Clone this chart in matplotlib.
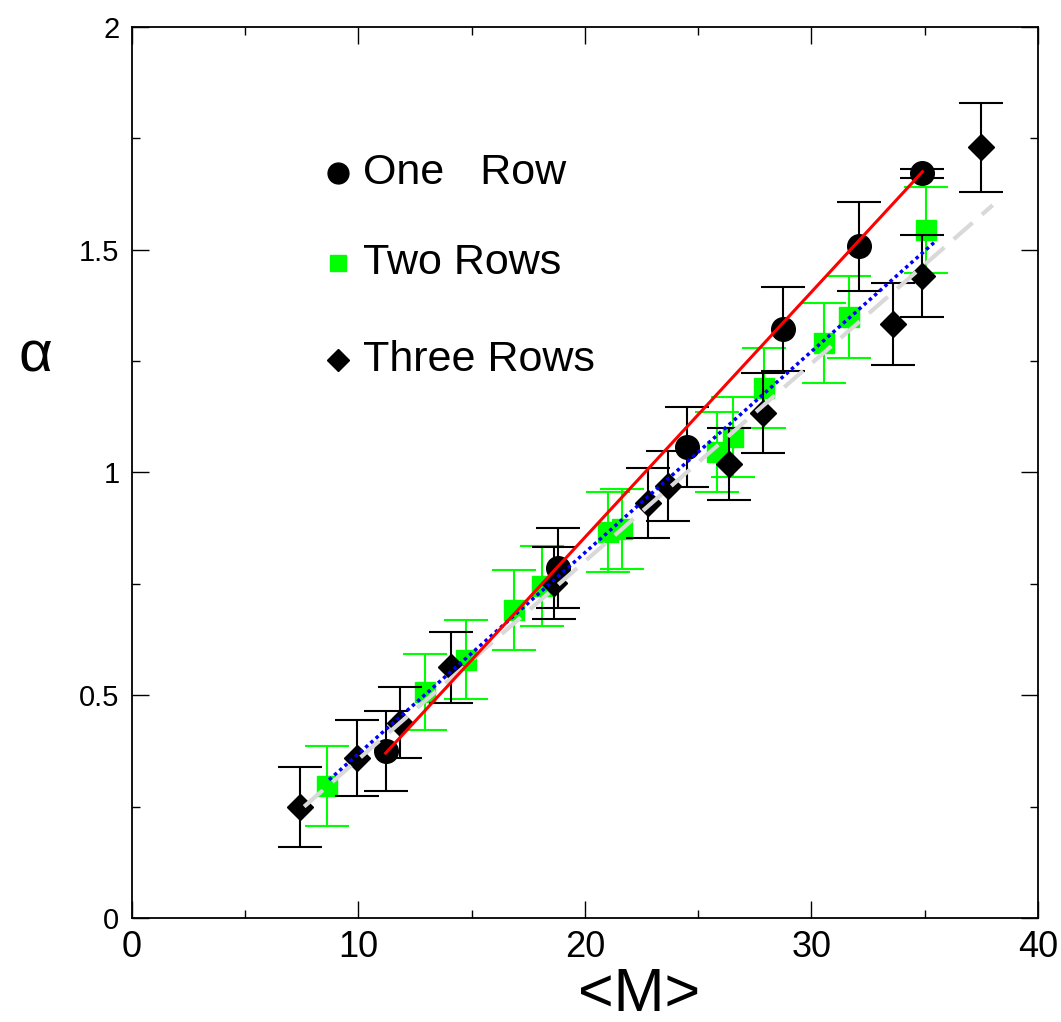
import numpy as np
import matplotlib
matplotlib.use('Agg')
import matplotlib.pyplot as plt
from matplotlib.ticker import MultipleLocator

# One Row (circles)
one_x = [11.2, 18.8, 24.5, 28.75, 32.1, 34.9]
one_y = [0.375, 0.786, 1.057, 1.322, 1.508, 1.672]
one_err = [0.09, 0.09, 0.09, 0.095, 0.1, 0.01]

# Two Rows (green squares)
two_x = [8.6, 12.95, 14.75, 16.85, 18.1, 21.0, 21.65, 25.85, 26.55, 27.9, 30.55, 31.65, 35.05]
two_y = [0.296, 0.507, 0.58, 0.691, 0.745, 0.866, 0.873, 1.046, 1.08, 1.19, 1.29, 1.349, 1.544]
two_err = [0.09, 0.085, 0.088, 0.09, 0.09, 0.09, 0.09, 0.09, 0.09, 0.09, 0.09, 0.092, 0.097]

# Three Rows (diamonds)
three_x = [7.4, 9.95, 11.85, 14.1, 18.65, 22.8, 23.65, 26.35, 27.85, 33.6, 34.9, 37.5]
three_y = [0.249, 0.359, 0.438, 0.563, 0.752, 0.932, 0.97, 1.019, 1.133, 1.333, 1.441, 1.73]
three_err = [0.089, 0.085, 0.08, 0.08, 0.08, 0.078, 0.078, 0.08, 0.09, 0.092, 0.092, 0.1]

# linear fits (end points)
fit_one_x, fit_one_y = [11.2, 34.9], [0.37, 1.675]
fit_two_x, fit_two_y = [8.7, 35.5], [0.31, 1.52]
fit_three_x, fit_three_y = [7.6, 38.0], [0.25, 1.60]

fam = ['Liberation Sans Narrow', 'Liberation Sans', 'DejaVu Sans']

fig = plt.figure(figsize=(10.61, 10.22), dpi=100)
ax = fig.add_axes([0.1244, 0.1018, 0.8539, 0.8718])

ax.errorbar(two_x, two_y, yerr=two_err, fmt='s', color='#00ff00', ms=14,
            elinewidth=1.5, capsize=16, capthick=1.5, zorder=2)
ax.errorbar(one_x, one_y, yerr=one_err, fmt='o', color='black', ms=17,
            elinewidth=1.5, capsize=16, capthick=1.5, zorder=3)
ax.errorbar(three_x, three_y, yerr=three_err, fmt='D', color='black', ms=13,
            elinewidth=1.5, capsize=16, capthick=1.5, zorder=4)

ax.plot(fit_three_x, fit_three_y, color='#d9d9d9', lw=3, dashes=(6, 3), zorder=5)
ax.plot(fit_two_x, fit_two_y, color='#0000ff', lw=2.5, dashes=(1, 1), zorder=6)
ax.plot(fit_one_x, fit_one_y, color='#ff0000', lw=2.2, zorder=7)

# legend
leg_y = [0.836, 0.735, 0.626]
ax.plot([0.227], [leg_y[0]], 'o', color='black', ms=15, transform=ax.transAxes)
ax.plot([0.227], [leg_y[1]], 's', color='#00ff00', ms=12, transform=ax.transAxes)
ax.plot([0.227], [leg_y[2]], 'D', color='black', ms=11, transform=ax.transAxes)
for yy, lab in zip(leg_y, ['One   Row', 'Two Rows', 'Three Rows']):
    ax.text(0.255, yy, lab, transform=ax.transAxes, fontsize=31, family=fam,
            va='center', ha='left')

ax.set_xlim(0, 40)
ax.set_ylim(0, 2)
ax.xaxis.set_major_locator(MultipleLocator(10))
ax.xaxis.set_minor_locator(MultipleLocator(5))
ax.yaxis.set_major_locator(MultipleLocator(0.5))
ax.yaxis.set_minor_locator(MultipleLocator(0.25))
ax.set_yticks([0, 0.5, 1, 1.5, 2])
ax.set_yticklabels(['0', '0.5', '1', '1.5', '2'])
ax.tick_params(which='both', direction='in', top=True, right=True, width=1)
ax.tick_params(which='major', length=12)
ax.tick_params(which='minor', length=6)
ax.tick_params(axis='x', labelsize=26, pad=9)
ax.tick_params(axis='y', labelsize=21, pad=9)
for lab in ax.get_xticklabels() + ax.get_yticklabels():
    lab.set_family(fam)
for sp in ax.spines.values():
    sp.set_linewidth(1.3)

ax.set_xlabel('<M>', fontsize=44, family=fam)
ax.xaxis.set_label_coords(0.56, -0.055)
ax.set_ylabel('α', fontsize=42, family=['Liberation Sans', 'DejaVu Sans'],
              rotation=0, va='center', ha='center')
ax.yaxis.set_label_coords(-0.107, 0.63)

fig.savefig('out.png', dpi=100)
